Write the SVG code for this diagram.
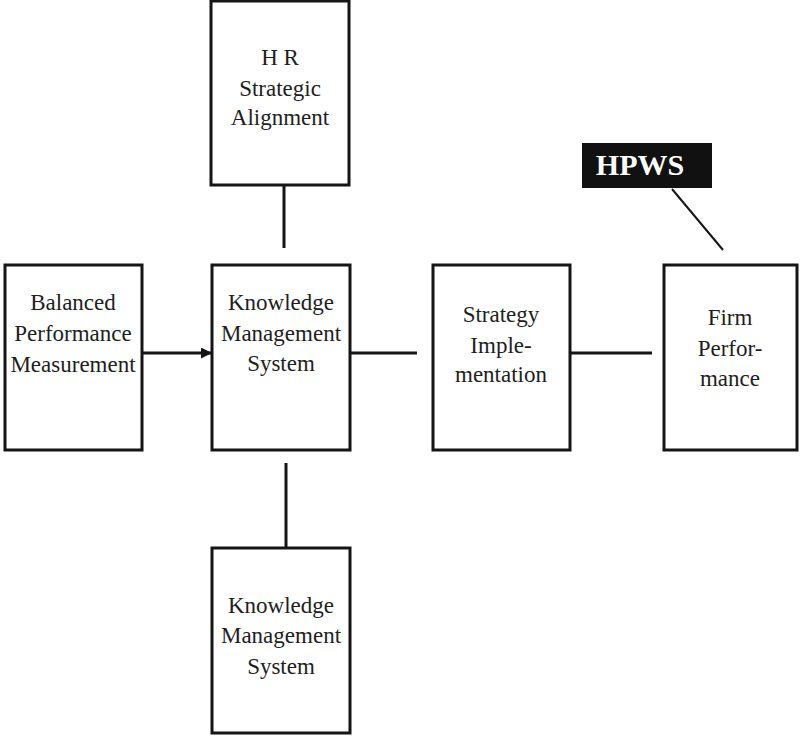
<svg xmlns="http://www.w3.org/2000/svg" width="800" height="736" viewBox="0 0 800 736">
  <style>
    .box { fill: #ffffff; stroke: #151515; stroke-width: 3; }
    .lbl { font-family: "Liberation Serif", "Times New Roman", serif; font-size: 23px; fill: #1e1e1e; text-anchor: middle; }
    .conn { stroke: #151515; stroke-width: 3; fill: none; }
    .tag { font-family: "Liberation Serif", "Times New Roman", serif; font-size: 30px; font-weight: bold; fill: #ffffff; text-anchor: middle; }
  </style>
  <defs>
    <marker id="arrow" markerWidth="11" markerHeight="11" refX="10" refY="5.5" orient="auto" markerUnits="userSpaceOnUse">
      <path d="M0,0 L11,5.5 L0,11 Z" fill="#151515"/>
    </marker>
  </defs>
  <rect width="800" height="736" fill="#ffffff"/>

  <!-- connectors -->
  <g id="connectors">
    <line class="conn" x1="142" y1="353" x2="211" y2="353" marker-end="url(#arrow)"/>
    <line class="conn" x1="284" y1="185" x2="284" y2="248"/>
    <line class="conn" x1="286" y1="463" x2="286" y2="548"/>
    <line class="conn" x1="345" y1="353" x2="417" y2="353"/>
    <line class="conn" x1="570" y1="353" x2="652" y2="353"/>
    <line x1="672" y1="189" x2="723" y2="250" stroke="#151515" stroke-width="2"/>
  </g>

  <g id="balanced">
    <rect class="box" x="5" y="265" width="137" height="185"/>
    <text class="lbl" x="73" y="310">Balanced</text>
    <text class="lbl" x="73" y="341">Performance</text>
    <text class="lbl" x="73" y="372">Measurement</text>
  </g>

  <g id="kms">
    <rect class="box" x="212" y="265" width="138" height="185"/>
    <text class="lbl" x="281" y="310">Knowledge</text>
    <text class="lbl" x="281" y="341">Management</text>
    <text class="lbl" x="281" y="371">System</text>
  </g>

  <g id="hr">
    <rect class="box" x="211" y="1" width="138" height="184"/>
    <text class="lbl" x="280" y="65">H R</text>
    <text class="lbl" x="280" y="96">Strategic</text>
    <text class="lbl" x="280" y="125">Alignment</text>
  </g>

  <g id="kms-lower">
    <rect class="box" x="212" y="548" width="138" height="185"/>
    <text class="lbl" x="281" y="613">Knowledge</text>
    <text class="lbl" x="281" y="643">Management</text>
    <text class="lbl" x="281" y="674">System</text>
  </g>

  <g id="strategy">
    <rect class="box" x="433" y="265" width="137" height="185"/>
    <text class="lbl" x="501" y="322">Strategy</text>
    <text class="lbl" x="501" y="353">Imple-</text>
    <text class="lbl" x="501" y="382">mentation</text>
  </g>

  <g id="firm">
    <rect class="box" x="664" y="265" width="133" height="185"/>
    <text class="lbl" x="730" y="325">Firm</text>
    <text class="lbl" x="730" y="356">Perfor-</text>
    <text class="lbl" x="730" y="386">mance</text>
  </g>

  <g id="hpws">
    <rect x="582" y="143" width="130" height="45" fill="#111111"/>
    <text class="tag" x="640" y="175">HPWS</text>
  </g>
</svg>
